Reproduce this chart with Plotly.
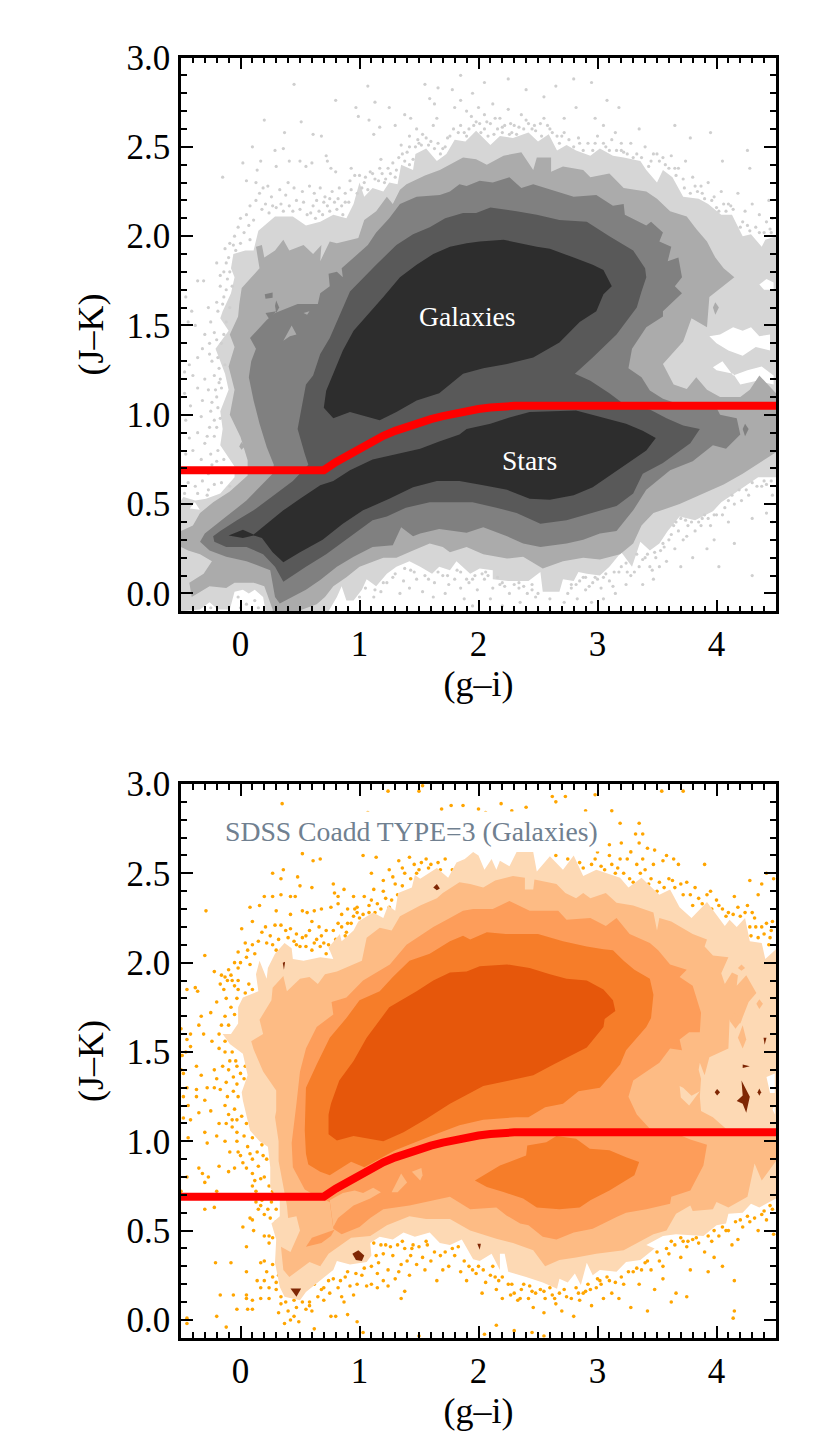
import plotly.graph_objects as go

X_TICKS = [0, 1, 2, 3, 4]
Y_TICKS = [0.0, 0.5, 1.0, 1.5, 2.0, 2.5, 3.0]
GREYS = ["#d6d6d6", "#ababab", "#808080", "#595959", "#2d2d2d"]
ORANGES = ["#fdd9b4", "#fdbb84", "#fd9d5a", "#f67d29", "#e6570b"]
SPECK = "#7f2704"

cut_x = [-0.5, 0.7, 0.8, 0.9, 1.0, 1.1, 1.2, 1.3, 1.4, 1.5, 1.6, 1.7, 1.8, 1.9, 2.0, 2.1, 2.2, 2.3, 4.5]
cut_y = [0.69, 0.69, 0.735, 0.775, 0.815, 0.85, 0.882, 0.91, 0.935, 0.957, 0.976, 0.993, 1.008, 1.02, 1.032, 1.041, 1.047, 1.05, 1.05]

top_band1 = [(-0.5,-0.1),(-0.34,-0.09),(-0.26,-0.05),(-0.19,-0.09),(-0.09,-0.09),(-0.05,0.01),(0.02,0.02),(0.07,0.0),(0.12,0.02),(0.19,-0.02),(0.21,-0.1),
(0.74,-0.1),(0.81,-0.02),(0.85,0.04),(0.89,-0.04),(0.95,-0.04),(1.02,0.02),(1.06,0.08),(1.14,0.04),(1.23,0.11),(1.31,0.15),(1.42,0.18),(1.51,0.15),(1.61,0.11),(1.67,0.15),(1.76,0.13),(1.815,0.18),(1.93,0.11),(2.01,0.14),(2.12,0.13),(2.12,0.08),(2.25,0.07),(2.42,0.07),(2.52,0.12),(2.54,0.01),(2.68,0.01),(2.71,0.08),(2.80,0.07),(2.84,0.12),(2.91,0.11),(3.02,0.10),(3.10,0.15),(3.20,0.23),(3.29,0.15),(3.36,0.29),(3.44,0.24),(3.52,0.28),(3.59,0.35),(3.69,0.43),(3.82,0.41),(3.97,0.46),(4.04,0.51),(4.15,0.56),(4.24,0.60),(4.35,0.65),(4.5,0.65),
(4.5,2.0),(4.41,1.98),(4.38,1.94),(4.29,2.01),(4.22,2.0),(4.13,2.12),(4.04,2.12),(3.93,2.18),(3.85,2.21),(3.72,2.22),(3.63,2.33),(3.55,2.37),(3.50,2.30),(3.41,2.37),(3.36,2.42),(3.22,2.44),(3.13,2.45),(3.02,2.49),(2.94,2.45),(2.82,2.48),(2.74,2.51),(2.66,2.48),(2.59,2.57),(2.50,2.53),(2.42,2.58),(2.29,2.55),(2.18,2.56),(2.10,2.51),(1.98,2.59),(1.89,2.53),(1.80,2.54),(1.73,2.46),(1.65,2.42),(1.56,2.49),(1.47,2.46),(1.45,2.37),(1.35,2.40),(1.32,2.29),(1.25,2.30),(1.20,2.25),(1.11,2.27),(1.04,2.22),(1.0,2.30),(0.95,2.18),(0.89,2.10),(0.78,2.12),(0.67,2.08),(0.55,2.06),(0.44,2.11),(0.29,2.11),(0.22,2.07),(0.15,2.03),(0.11,1.92),(0.04,1.92),(-0.06,1.90),(-0.08,1.82),(-0.05,1.77),(-0.08,1.68),(-0.15,1.58),(-0.17,1.54),(-0.10,1.47),(-0.21,1.37),(-0.13,1.23),(-0.10,1.14),(-0.17,1.02),(-0.15,0.92),(-0.17,0.83),(-0.05,0.71),(-0.05,0.65),(-0.17,0.56),(-0.29,0.53),(-0.38,0.52),(-0.48,0.54),(-0.5,0.52)]

top_holes = [
[(3.94,1.44),(4.03,1.45),(4.14,1.49),(4.22,1.47),(4.29,1.49),(4.36,1.44),(4.45,1.45),(4.45,1.36),(4.33,1.38),(4.22,1.33),(4.10,1.36),(4.0,1.40)],
[(3.97,1.266),(4.05,1.30),(4.14,1.22),(4.26,1.25),(4.38,1.27),(4.48,1.22),(4.48,1.17),(4.34,1.19),(4.20,1.17),(4.14,1.23),(4.0,1.25)],
[(4.36,1.73),(4.42,1.76),(4.48,1.74),(4.48,1.70),(4.40,1.70)],
[(-0.426,0.475),(-0.384,0.512),(-0.342,0.469)],
]

top_band2 = [(-0.5,0.26),(-0.44,0.24),(-0.34,0.22),(-0.24,0.18),(-0.31,0.11),(-0.43,0.06),(-0.41,-0.02),(-0.26,0.04),(-0.12,0.03),(-0.05,0.06),(0.11,0.06),(0.20,0.04),(0.27,-0.09),(0.27,-0.1),(0.48,-0.1),(0.64,-0.06),(0.71,-0.02),(0.78,0.04),(0.89,0.09),(1.0,0.15),(1.20,0.20),(1.31,0.20),(1.45,0.24),(1.59,0.28),(1.70,0.26),(1.76,0.23),(1.90,0.26),(2.04,0.22),(2.24,0.195),(2.375,0.205),(2.54,0.14),(2.71,0.18),(2.88,0.20),(3.02,0.19),(3.19,0.22),(3.30,0.28),(3.37,0.38),(3.47,0.45),(3.69,0.50),(3.89,0.56),(4.06,0.61),(4.22,0.67),(4.36,0.73),(4.5,0.79),
(4.5,1.12),(4.36,1.22),(4.28,1.14),(4.2,1.10),(4.03,1.10),(3.92,1.14),(3.83,1.21),(3.75,1.145),(3.64,1.17),(3.58,1.25),(3.55,1.285),(3.72,1.41),(3.79,1.54),(3.92,1.49),(3.94,1.66),(4.15,1.77),(4.06,1.82),(3.99,1.88),(3.92,1.97),(3.83,2.04),(3.75,2.11),(3.61,2.14),(3.50,2.21),(3.41,2.25),(3.22,2.27),(3.10,2.35),(2.94,2.33),(2.88,2.37),(2.71,2.39),(2.61,2.36),(2.61,2.44),(2.49,2.44),(2.46,2.37),(2.36,2.47),(2.21,2.45),(2.07,2.40),(1.98,2.43),(1.87,2.44),(1.79,2.41),(1.675,2.37),(1.55,2.34),(1.395,2.29),(1.34,2.26),(1.28,2.18),(1.23,2.22),(1.14,2.14),(1.04,2.09),(0.99,1.99),(0.81,1.96),(0.75,1.97),(0.67,1.86),(0.68,1.95),(0.61,1.90),(0.53,1.95),(0.41,1.92),(0.36,1.98),(0.29,1.92),(0.20,1.88),(0.18,1.95),(0.13,1.94),(0.16,1.82),(0.01,1.71),(-0.01,1.62),(-0.02,1.55),(-0.09,1.45),(-0.05,1.38),(-0.10,1.27),(-0.05,1.14),(-0.09,1.0),(0.0,0.875),(0.06,0.745),(0.06,0.66),(-0.09,0.57),(-0.23,0.51),(-0.34,0.45),(-0.40,0.38),(-0.5,0.35)]

top_band2_specks = [
[(0.008,0.847),(0.036,0.823),(0.008,0.804),(-0.011,0.823)],
[(3.97,1.60),(3.99,1.63),(4.02,1.60),(3.99,1.56)],
]

top_band3 = [(-0.34,0.29),(-0.30,0.335),(-0.12,0.43),(0.05,0.52),(0.27,0.67),(0.28,0.72),(0.22,0.82),(0.16,0.95),(0.11,1.08),(0.07,1.21),(0.09,1.30),(0.13,1.37),(0.08,1.43),(0.15,1.48),(0.22,1.53),(0.29,1.57),(0.48,1.62),(0.65,1.62),(0.67,1.68),(0.75,1.72),(0.74,1.79),(0.81,1.80),(0.86,1.77),(0.85,1.82),(0.95,1.88),(1.07,1.95),(1.14,2.02),(1.25,2.10),(1.34,2.18),(1.48,2.22),(1.675,2.23),(1.76,2.25),(1.84,2.29),(1.90,2.28),(2.01,2.31),(2.12,2.30),(2.26,2.33),(2.36,2.27),(2.46,2.29),(2.60,2.26),(2.80,2.22),(2.99,2.23),(3.13,2.17),(3.22,2.18),(3.23,2.12),(3.41,2.06),(3.45,2.08),(3.55,2.02),(3.52,1.97),(3.62,1.94),(3.59,1.86),(3.68,1.88),(3.71,1.77),(3.65,1.72),(3.71,1.68),(3.55,1.58),(3.55,1.55),(3.41,1.49),(3.29,1.37),(3.26,1.26),(3.37,1.21),(3.44,1.136),(3.55,1.09),(3.72,1.05),(3.85,1.07),(4.0,1.04),(4.03,1.0),(4.17,0.98),(4.20,0.89),(4.08,0.81),(3.97,0.83),(3.80,0.74),(3.61,0.69),(3.41,0.58),(3.30,0.465),(3.16,0.35),(3.02,0.335),(2.88,0.30),(2.74,0.28),(2.52,0.26),(2.375,0.28),(2.24,0.32),(2.04,0.37),(1.90,0.34),(1.76,0.35),(1.67,0.36),(1.51,0.335),(1.45,0.32),(1.35,0.37),(1.28,0.27),(1.11,0.26),(0.95,0.205),(0.81,0.15),(0.67,0.075),(0.55,0.02),(0.33,-0.056),(0.29,-0.02),(0.25,0.13),(0.05,0.18),(-0.12,0.205),(-0.26,0.24)]

top_band3_specks = [
[(0.204,1.675),(0.27,1.685),(0.27,1.655),(0.21,1.65)],
[(0.30,1.64),(0.325,1.6),(0.30,1.57),(0.29,1.61)],
[(0.21,1.57),(0.30,1.58),(0.246,1.53)],
[(4.22,0.92),(4.24,0.95),(4.27,0.92),(4.24,0.88)],
]
top_band2_over3 = [
[(0.36,1.415),(0.43,1.50),(0.47,1.45),(0.415,1.44)],
[(0.53,1.57),(0.58,1.58),(0.56,1.56)],
]

top_band4 = [(-0.23,0.32),(-0.17,0.35),(-0.03,0.41),(0.11,0.465),(0.30,0.56),(0.44,0.63),(0.57,0.72),(0.54,0.78),(0.48,0.92),(0.51,1.02),(0.55,1.17),(0.61,1.22),(0.67,1.34),(0.75,1.43),(0.86,1.60),(0.92,1.69),(1.14,1.84),(1.31,1.95),(1.45,2.01),(1.59,2.05),(1.72,2.10),(1.87,2.13),(1.98,2.13),(2.10,2.16),(2.32,2.14),(2.49,2.12),(2.68,2.09),(2.91,2.08),(3.10,2.0),(3.30,1.92),(3.40,1.82),(3.41,1.77),(3.37,1.69),(3.33,1.60),(3.16,1.45),(2.96,1.32),(2.81,1.23),(2.94,1.19),(3.10,1.12),(3.22,1.06),(3.44,1.03),(3.58,0.98),(3.72,0.94),(3.86,0.92),(3.78,0.84),(3.66,0.78),(3.55,0.73),(3.38,0.67),(3.30,0.56),(3.16,0.49),(2.96,0.45),(2.74,0.41),(2.52,0.39),(2.32,0.45),(2.15,0.48),(1.95,0.51),(1.76,0.51),(1.59,0.51),(1.39,0.48),(1.23,0.43),(1.11,0.41),(0.92,0.315),(0.72,0.22),(0.55,0.15),(0.36,0.065),(0.29,0.15),(0.19,0.22),(0.05,0.26),(-0.12,0.26),(-0.22,0.29)]

top_band5_gal = [(0.70,1.04),(0.78,0.98),(0.92,1.015),(1.17,0.97),(1.31,1.015),(1.48,1.08),(1.67,1.12),(1.87,1.23),(2.04,1.26),(2.24,1.285),(2.46,1.32),(2.68,1.405),(2.85,1.52),(2.99,1.58),(3.05,1.675),(3.12,1.72),(3.05,1.81),(2.96,1.84),(2.80,1.88),(2.60,1.93),(2.49,1.94),(2.35,1.96),(2.21,1.98),(2.01,1.97),(1.90,1.96),(1.76,1.94),(1.62,1.90),(1.48,1.84),(1.34,1.77),(1.20,1.66),(1.06,1.55),(0.95,1.47),(0.86,1.36),(0.75,1.19),(0.72,1.135)]

top_band5_star = [(-0.10,0.325),(0.02,0.357),(0.11,0.33),(0.36,0.465),(0.50,0.53),(0.67,0.605),(0.78,0.63),(0.92,0.69),(1.11,0.75),(1.31,0.78),(1.51,0.81),(1.67,0.85),(1.84,0.89),(1.90,0.92),(2.10,0.95),(2.26,0.985),(2.43,1.015),(2.82,1.024),(3.02,0.987),(3.24,0.95),(3.38,0.91),(3.49,0.87),(3.41,0.80),(3.27,0.735),(3.13,0.67),(2.96,0.595),(2.80,0.55),(2.60,0.525),(2.43,0.53),(2.24,0.58),(2.04,0.605),(1.84,0.63),(1.65,0.63),(1.45,0.595),(1.25,0.53),(1.03,0.465),(0.86,0.39),(0.69,0.30),(0.50,0.23),(0.36,0.175),(0.27,0.23),(0.18,0.31),(0.11,0.325),(0.02,0.31)]

grey_dots = [(0.45,2.85),(0.80,2.76),(1.07,2.84),(1.13,2.75),(0.20,2.65),(0.51,2.64),(0.37,2.58),(0.61,2.57),(0.68,2.56),(1.25,2.72),(1.38,2.68),(1.43,2.66),(1.30,2.62),(1.17,2.61),(0.97,2.72),(0.99,2.67),(1.08,2.65),(1.12,2.57),(1.55,2.85),(1.59,2.77),(1.63,2.74),(1.65,2.66),(1.62,2.62),(1.48,2.60),(1.42,2.56),(1.53,2.57),(1.78,2.82),(1.66,2.83),
(-0.15,2.33),(0.10,2.50),(0.29,2.48),(0.36,2.49),(0.02,2.41),(0.17,2.42),(0.14,2.37),(0.30,2.39),(0.41,2.42),(0.50,2.42),(0.55,2.39),(0.60,2.41),(0.72,2.45),(0.73,2.42),(0.76,2.38),(0.80,2.36),(0.93,2.38),(0.96,2.34),(1.05,2.33),(1.09,2.36),(1.13,2.32),(1.19,2.35),(1.24,2.38),(1.28,2.41),(1.33,2.44),(1.18,2.43),(1.35,2.51),(1.42,2.50),(1.50,2.52),(1.60,2.53),(1.66,2.52),(1.74,2.55),
(0.05,2.31),(0.13,2.30),(0.19,2.27),(0.23,2.28),(0.26,2.22),(0.33,2.26),(0.40,2.30),(0.45,2.27),(0.52,2.25),(0.58,2.28),(0.62,2.24),(0.67,2.27),(0.71,2.22),(0.77,2.25),(0.82,2.21),(0.88,2.24),(0.91,2.19),(0.85,2.17),(0.79,2.19),(0.73,2.17),(0.66,2.14),(0.61,2.17),(0.56,2.12),(0.50,2.15),(0.47,2.20),(0.41,2.17),(0.36,2.14),(0.30,2.16),(0.24,2.13),(0.18,2.15),(0.13,2.20),(0.08,2.17),(0.05,2.12),(0.0,2.10),(-0.02,2.05),(0.03,2.02),(0.07,2.06),(0.11,2.09),(-0.05,2.00),(0.0,1.96),(0.08,1.98),(-0.09,1.96),(-0.13,1.93),(-0.10,1.88),(-0.20,1.85),(-0.14,1.80),(-0.11,1.76),(-0.17,1.72),(-0.12,1.70),(-0.14,1.66),(-0.20,1.63),(-0.27,1.60),(-0.31,1.75),(-0.36,1.75),(-0.41,1.58),(-0.44,1.52),(-0.46,1.66),(-0.38,1.50),(-0.30,1.45),(-0.26,1.40),(-0.32,1.37),(-0.24,1.30),(-0.36,1.32),(-0.43,1.28),(-0.47,1.24),(-0.40,1.22),(-0.30,1.20),(-0.22,1.22),(-0.18,1.18),(-0.27,1.14),(-0.36,1.15),(-0.47,1.12),(-0.20,1.10),(-0.32,1.08),(-0.42,1.05),(-0.25,1.02),(-0.33,0.99),(-0.46,0.97),(-0.26,0.93),(-0.36,0.90),(-0.43,0.87),(-0.22,0.88),(-0.30,0.84),(-0.40,0.80),(-0.46,0.78),(-0.25,0.78),(-0.33,0.75),(-0.20,0.74),(-0.14,0.75),(-0.44,0.62),(-0.38,0.60),(-0.32,0.63),(-0.27,0.58),(-0.22,0.61),(-0.47,0.56),(-0.36,0.56),(-0.16,0.62),
(-0.02,-0.02),(0.05,-0.06),(0.12,-0.04),(0.0,-0.08),(0.15,-0.08),(-0.25,-0.08),(1.0,-0.02),(1.05,0.03),(1.12,-0.02),(1.18,0.01),(1.23,0.06),(1.3,0.11),(1.37,0.07),(1.43,0.13),(1.48,0.08),(1.55,0.1),(1.63,0.06),(1.7,0.1),(1.75,0.05),(1.34,0.0),(1.42,0.03),(1.53,0.01),(1.62,-0.02),(1.72,0.0),(1.8,0.08),(1.85,0.03),(1.92,0.06),(1.99,0.02),(2.05,0.08),(2.12,0.03),(2.18,0.05),(2.26,0.0),(2.34,0.03),(2.41,0.0),(1.88,-0.03),(1.95,-0.07),(2.1,-0.03),(2.2,-0.07),(2.35,-0.05),(2.48,-0.02),(2.6,-0.03),(2.72,-0.05),(2.78,0.03),(2.85,0.07),(2.9,0.02),(2.96,0.06),(3.03,0.03),(3.1,0.07),(3.18,0.12),(3.24,0.05),(2.83,-0.03),(2.95,-0.05),(3.05,-0.03),(3.15,0.0),(3.28,0.1),(3.35,0.15),(3.4,0.2),(3.44,0.15),(3.49,0.2),(3.53,0.24),(3.38,0.05),(3.47,0.08),(3.58,0.18),(3.6,0.3),(3.65,0.25),(3.68,0.35),(3.72,0.3),(3.76,0.38),(3.82,0.35),(3.87,0.38),(3.93,0.42),(3.7,0.15),(3.8,0.2),(3.92,0.25),(3.98,0.3),(4.05,0.44),(4.1,0.4),(4.15,0.5),(4.21,0.52),(4.27,0.55),(4.34,0.6),(4.42,0.61),(4.3,0.42),(4.15,0.28),(4.02,0.15),(4.3,0.1),(4.42,0.45),(4.47,0.55),
(1.80,2.72),(1.85,2.76),(1.90,2.70),(1.95,2.80),(2.0,2.72),(2.05,2.68),(2.12,2.74),(2.18,2.66),(2.25,2.71),(2.30,2.62),(2.36,2.68),(2.42,2.63),(2.48,2.59),(2.55,2.66),(2.62,2.58),(2.70,2.56),(1.85,2.62),(1.92,2.60),(1.98,2.64),(2.05,2.60),(2.10,2.63),(2.16,2.60),(2.22,2.62),(2.28,2.58),(1.85,2.9),(2.05,2.86),(2.25,2.88),(2.4,2.82),(2.55,2.78),(2.65,2.84),(2.8,2.88),(2.95,2.86),(3.08,2.76),(2.82,2.72),(2.98,2.66),(2.72,2.66),(3.05,2.62),(3.15,2.58),(3.18,2.72),(3.35,2.6),(2.84,2.55),(2.92,2.52),(3.0,2.56),(3.07,2.5),(3.12,2.54),(3.22,2.47),(3.28,2.52),(3.33,2.46),(3.4,2.5),(3.45,2.42),(3.5,2.46),(3.57,2.4),(3.62,2.45),(3.68,2.38),(3.74,2.42),(3.8,2.33),(3.87,2.28),(3.93,2.3),(3.98,2.22),(4.04,2.25),(4.1,2.18),(4.18,2.24),(4.24,2.14),(4.3,2.18),(4.36,2.12),(4.42,2.08),(4.44,2.2),(4.28,2.38),(4.26,2.48),(4.05,2.42),(3.95,2.58),(3.78,2.55),(3.65,2.62),(3.2,2.52),(4.47,2.1),
(0.64,2.20),(0.69,2.12),(0.75,2.14),(0.81,2.15),(0.86,2.12),(0.93,2.26),(1.0,2.34),(1.02,2.27),(1.07,2.26),(1.16,2.31),(1.22,2.32),(1.30,2.33),(1.38,2.42),(1.42,2.40),(1.47,2.50),(1.52,2.51),(1.58,2.51),(1.70,2.49),(1.76,2.56),(1.83,2.58),(1.90,2.56),(1.96,2.62),(2.02,2.58),(2.08,2.56),(2.13,2.57),(2.20,2.58),(2.26,2.57),(2.32,2.57),(2.38,2.60),(2.45,2.60),(2.53,2.56),(2.60,2.60),(2.68,2.52),(2.76,2.54),(2.80,2.50),(2.88,2.48),(2.96,2.48),(3.05,2.52),(3.16,2.48),(3.25,2.46),(3.37,2.44),(3.43,2.39),(3.52,2.42),(3.6,2.38),(3.66,2.34),(3.73,2.27),(3.78,2.24),(3.84,2.25),(3.9,2.21),(3.96,2.2),(4.02,2.14),(4.08,2.14),(4.14,2.15),(4.2,2.05),(4.26,2.06),(4.33,2.05),(4.4,2.02),(4.45,2.04),
(-0.06,1.95),(-0.04,1.92),(-0.12,1.85),(-0.09,1.8),(-0.17,1.78),(-0.15,1.62),(-0.19,1.58),(-0.25,1.52),(-0.22,1.46),(-0.2,1.42),(-0.26,1.34),(-0.18,1.26),(-0.16,1.15),(-0.24,1.07),(-0.22,0.97),(-0.2,0.93),(-0.28,0.88),(-0.24,0.72),(-0.27,0.67),(-0.37,0.68),(-0.42,0.7),(-0.1,0.55),
(1.85,0.12),(1.9,0.08),(1.97,0.1),(2.03,0.11),(2.08,0.1),(2.16,0.09),(2.22,0.04),(2.3,0.05),(2.38,0.04),(2.45,0.05),(2.5,0.0),(2.75,0.0),(2.82,0.05),(2.88,0.09),(2.93,0.04),(3.0,0.08),(3.07,0.11),(3.13,0.04),(3.2,0.15),(3.25,0.12),(3.31,0.12),(3.33,0.22),(3.42,0.22),(3.46,0.13),(3.52,0.15),(3.56,0.26),(3.62,0.33),(3.66,0.4),(3.7,0.42),(3.75,0.32),(3.79,0.4),(3.85,0.4),(3.9,0.44),(3.95,0.38),(4.0,0.44),(4.07,0.48),(4.13,0.55),(4.19,0.58),(4.3,0.62),(4.38,0.6),(4.46,0.63),(4.47,0.4),
(0.16,2.24),(0.21,2.18),(0.27,2.17),(0.34,2.18),(0.38,2.23),(0.44,2.14),(0.53,2.19),(0.59,2.13),(0.63,2.10),(0.70,2.19),(0.75,2.21),(0.83,2.27),(0.88,2.19),(0.92,2.31),(0.98,2.24),(1.04,2.30),(1.11,2.35),(1.17,2.38),(1.21,2.30),(1.26,2.35),(1.31,2.37),(1.36,2.46),(1.40,2.47),(1.45,2.43),(1.49,2.54),(1.56,2.55),(1.63,2.49),(1.68,2.46),(1.72,2.50),(1.79,2.60),(1.88,2.58),(1.94,2.67),(2.01,2.63),(2.07,2.64),(2.14,2.66),(2.20,2.61),(2.27,2.63),(2.34,2.61),(2.40,2.65),(2.47,2.62),(2.52,2.63),(2.58,2.62),(2.66,2.56),(2.72,2.58),(2.85,2.52),(2.98,2.52),(3.1,2.48),(3.2,2.48),(3.3,2.44),(3.47,2.46),(3.55,2.44),(3.65,2.38),(3.72,2.32),(3.82,2.28),(3.88,2.24),(4.0,2.16),(4.06,2.18),(4.12,2.17),(4.22,2.08),(4.28,2.03),(4.36,2.02),(4.46,2.02),
(-0.07,1.72),(-0.09,1.60),(-0.12,1.52),(-0.14,1.45),(-0.16,1.40),(-0.19,1.32),(-0.17,1.20),(-0.13,1.28),(-0.21,1.14),(-0.19,1.04),(-0.17,0.98),(-0.19,0.80),(-0.12,0.70),(-0.09,0.60),(-0.16,0.68),(-0.28,0.55),
(1.13,0.02),(1.2,0.06),(1.28,0.09),(1.38,0.14),(1.46,0.12),(1.58,0.08),(1.66,0.12),(1.74,0.1),(1.82,0.13),(1.95,0.08),(2.06,0.12),(2.2,0.06),(2.34,0.06),(2.45,0.02),(2.78,0.05),(2.9,0.09),(2.98,0.09),(3.05,0.09),(3.14,0.12),(3.24,0.17),(3.38,0.19),(3.48,0.23),(3.55,0.28),(3.64,0.38),(3.74,0.41),(3.88,0.42),(3.98,0.44),(4.1,0.52),(4.25,0.58),(4.4,0.63)]

bot_band1 = [(0.02,1.228),(0.08,1.06),(0.16,1.0),(0.23,0.97),(0.25,0.855),(0.25,0.74),(0.33,0.67),(0.33,0.58),(0.26,0.54),(0.30,0.45),(0.29,0.32),(0.33,0.185),(0.37,0.13),(0.50,0.11),(0.55,0.157),(0.67,0.22),(0.78,0.28),(0.81,0.33),(0.92,0.31),(1.06,0.325),(1.10,0.36),(1.09,0.43),(1.17,0.465),(1.28,0.45),(1.37,0.49),(1.465,0.465),(1.59,0.49),(1.675,0.43),(1.76,0.42),(1.86,0.45),(1.955,0.34),(2.01,0.33),(2.11,0.37),(2.18,0.28),(2.18,0.37),(2.22,0.37),(2.25,0.27),(2.40,0.24),(2.54,0.21),(2.66,0.175),(2.68,0.23),(2.75,0.21),(2.81,0.26),(2.86,0.195),(2.91,0.32),(2.96,0.25),(3.02,0.28),(3.16,0.27),(3.24,0.325),(3.36,0.335),(3.48,0.40),(3.41,0.42),(3.55,0.47),(3.66,0.48),(3.89,0.47),(4.0,0.53),(4.08,0.54),(4.10,0.595),(4.22,0.60),(4.29,0.65),(4.36,0.63),(4.5,0.68),
(4.5,2.075),(4.41,2.02),(4.38,2.11),(4.28,2.12),(4.24,2.25),(4.17,2.20),(4.11,2.24),(4.07,2.205),(4.0,2.27),(3.92,2.34),(3.79,2.25),(3.69,2.31),(3.61,2.41),(3.52,2.38),(3.37,2.475),(3.26,2.42),(3.19,2.475),(2.99,2.52),(2.88,2.485),(2.80,2.60),(2.71,2.52),(2.60,2.595),(2.49,2.51),(2.46,2.62),(2.32,2.62),(2.26,2.54),(2.18,2.57),(2.15,2.52),(2.11,2.58),(2.05,2.52),(2.0,2.60),(1.955,2.62),(1.885,2.58),(1.815,2.56),(1.745,2.475),(1.65,2.53),(1.51,2.47),(1.465,2.49),(1.44,2.42),(1.325,2.39),(1.30,2.29),(1.24,2.32),(1.20,2.25),(1.115,2.28),(0.99,2.23),(0.95,2.18),(0.85,2.12),(0.835,2.16),(0.74,2.085),(0.78,2.02),(0.67,2.03),(0.53,2.01),(0.44,2.02),(0.43,2.08),(0.37,2.11),(0.29,2.05),(0.23,1.97),(0.22,1.91),(0.16,2.01),(0.13,1.935),(0.15,1.84),(0.02,1.805),(-0.02,1.75),(-0.02,1.66),(-0.08,1.60),(-0.15,1.60),(-0.09,1.545),(0.02,1.49),(0.06,1.37),(0.01,1.275)]

bot_holes = [
[(4.42,1.36),(4.49,1.38),(4.49,1.27),(4.45,1.27)],
[(4.47,1.18),(4.49,1.2),(4.49,1.15)],
]

bot_band2 = [(0.29,1.135),(0.32,1.0),(0.32,0.89),(0.39,0.64),(0.40,0.57),(0.47,0.58),(0.50,0.50),(0.42,0.38),(0.34,0.41),(0.36,0.28),(0.41,0.24),(0.58,0.325),(0.67,0.30),(0.74,0.37),(0.93,0.46),(1.09,0.47),(1.23,0.53),(1.42,0.58),(1.56,0.565),(1.76,0.565),(1.93,0.50),(2.12,0.46),(2.15,0.455),(2.29,0.43),(2.46,0.39),(2.56,0.30),(2.68,0.335),(2.82,0.35),(2.99,0.37),(3.22,0.39),(3.38,0.45),(3.47,0.48),(3.58,0.50),(3.66,0.595),(3.78,0.64),(3.80,0.61),(3.97,0.62),(4.0,0.66),(4.10,0.63),(4.26,0.69),(4.32,0.875),(4.38,0.78),(4.5,0.89),(4.5,1.07),
(4.08,1.07),(3.97,1.135),(3.87,1.17),(3.86,1.25),(3.87,1.35),(3.85,1.40),(3.86,1.44),(3.90,1.37),(3.94,1.47),(4.10,1.52),(4.11,1.68),(4.20,1.66),(4.27,1.78),(4.335,1.83),(4.25,1.93),(4.17,1.87),(4.18,1.93),(4.13,1.945),(4.07,1.88),(4.04,1.94),(4.10,2.03),(3.97,2.04),(3.90,2.09),(3.92,2.13),(3.80,2.16),(3.62,2.23),(3.52,2.25),(3.50,2.18),(3.47,2.28),(3.30,2.32),(3.16,2.335),(3.07,2.39),(2.94,2.36),(2.88,2.39),(2.82,2.36),(2.73,2.39),(2.655,2.44),(2.47,2.465),(2.46,2.41),(2.39,2.41),(2.39,2.475),(2.29,2.485),(2.14,2.46),(2.04,2.42),(1.93,2.44),(1.84,2.45),(1.70,2.39),(1.65,2.36),(1.51,2.32),(1.34,2.26),(1.27,2.18),(1.17,2.195),(1.06,2.14),(1.02,2.01),(0.81,1.95),(0.71,1.935),(0.65,1.88),(0.58,1.92),(0.50,1.91),(0.39,1.84),(0.36,1.925),(0.27,1.86),(0.26,1.79),(0.16,1.68),(0.19,1.60),(0.09,1.56),(0.11,1.515),(0.19,1.39),(0.30,1.285),(0.30,1.17)]

bot_band2_patches = [
[(4.22,1.65),(4.25,1.57),(4.22,1.52),(4.18,1.58)],
[(4.15,1.72),(4.21,1.675),(4.16,1.63),(4.11,1.675)],
[(4.36,1.795),(4.39,1.77),(4.36,1.74),(4.335,1.77)],
[(4.21,1.99),(4.24,1.97),(4.21,1.955),(4.18,1.97)],
]

bot_band1_tongue = [(3.69,1.31),(3.70,1.245),(3.77,1.20),(3.86,1.28),(3.79,1.255),(3.72,1.30)]

bot_band3 = [(0.47,1.21),(0.43,0.99),(0.44,0.855),(0.54,0.73),(0.67,0.68),(0.72,0.67),(0.75,0.66),(0.78,0.51),(0.85,0.48),(1.0,0.52),(1.09,0.57),(1.20,0.62),(1.42,0.64),(1.76,0.69),(1.93,0.62),(2.15,0.63),(2.235,0.585),(2.35,0.54),(2.42,0.53),(2.54,0.465),(2.655,0.45),(2.80,0.49),(2.96,0.51),(3.16,0.576),(3.24,0.60),(3.41,0.62),(3.61,0.65),(3.62,0.69),(3.78,0.725),(3.89,0.865),(3.92,0.98),(3.78,1.01),(3.60,1.06),(3.44,1.07),(3.33,1.15),(3.26,1.25),(3.30,1.34),(3.52,1.44),(3.61,1.52),(3.71,1.51),(3.69,1.57),(3.77,1.61),(3.86,1.61),(3.87,1.72),(3.80,1.87),(3.69,1.92),(3.75,1.96),(3.61,1.99),(3.51,2.07),(3.44,2.11),(3.27,2.16),(3.16,2.25),(3.07,2.205),(2.94,2.25),(2.74,2.24),(2.67,2.29),(2.43,2.29),(2.26,2.345),(2.12,2.30),(1.955,2.30),(1.87,2.29),(1.76,2.25),(1.62,2.20),(1.395,2.10),(1.255,1.99),(1.03,1.90),(0.89,1.805),(0.765,1.78),(0.78,1.71),(0.64,1.64),(0.55,1.52),(0.50,1.39)]

bot_band2_slivers = [
[(0.75,0.67),(0.86,0.71),(0.96,0.725),(1.03,0.71),(1.115,0.74),(1.18,0.715),(1.09,0.68),(0.95,0.64),(0.82,0.57),(0.78,0.52)],
[(1.27,0.715),(1.35,0.82),(1.40,0.77),(1.32,0.715)],
[(1.44,0.83),(1.52,0.85),(1.53,0.81),(1.51,0.78)],
]
bot_band3_patch = [(0.55,0.41),(0.60,0.46),(0.79,0.505),(0.76,0.47),(0.68,0.43)]

bot_band4_gal = [(0.54,1.06),(0.55,0.93),(0.57,0.87),(0.67,0.83),(0.75,0.81),(0.93,0.885),(1.04,0.855),(1.30,0.95),(1.60,1.03),(1.84,1.09),(2.04,1.12),(2.32,1.135),(2.42,1.135),(2.56,1.19),(2.71,1.21),(2.84,1.28),(3.02,1.30),(3.19,1.43),(3.24,1.51),(3.33,1.58),(3.41,1.64),(3.45,1.69),(3.47,1.82),(3.44,1.91),(3.31,1.96),(3.22,2.01),(3.13,2.07),(3.05,2.075),(2.91,2.09),(2.71,2.12),(2.50,2.16),(2.23,2.16),(2.07,2.17),(1.93,2.13),(1.87,2.15),(1.76,2.12),(1.59,2.05),(1.42,2.01),(1.28,1.92),(1.17,1.84),(1.0,1.79),(0.89,1.69),(0.75,1.58),(0.64,1.43),(0.55,1.30)]

bot_band4_star = [(1.97,0.78),(2.18,0.865),(2.40,0.92),(2.41,0.977),(2.57,0.995),(2.655,1.03),(2.82,1.014),(2.935,0.958),(3.10,0.95),(3.24,0.91),(3.35,0.884),(3.31,0.81),(3.10,0.725),(2.94,0.67),(2.85,0.63),(2.68,0.62),(2.49,0.63),(2.375,0.68),(2.21,0.716),(2.07,0.744)]

bot_band5 = [(0.74,1.15),(0.74,1.04),(0.81,1.004),(0.95,1.03),(1.20,1.0),(1.37,1.05),(1.56,1.125),(1.76,1.21),(1.93,1.27),(2.04,1.31),(2.26,1.34),(2.46,1.37),(2.63,1.43),(2.75,1.47),(2.91,1.525),(3.05,1.64),(3.06,1.685),(3.15,1.73),(3.13,1.79),(3.05,1.85),(2.91,1.90),(2.74,1.91),(2.60,1.935),(2.43,1.97),(2.24,1.99),(2.01,1.98),(1.90,1.95),(1.76,1.945),(1.62,1.90),(1.48,1.84),(1.25,1.75),(1.06,1.58),(0.95,1.45),(0.83,1.34),(0.76,1.21)]

bot_specks = [
[(4.21,1.34),(4.27,1.27),(4.28,1.25),(4.25,1.16),(4.22,1.21),(4.17,1.225),(4.22,1.256)],
[(3.985,1.275),(4.005,1.293),(4.03,1.275),(4.005,1.256)],
[(4.345,1.275),(4.36,1.295),(4.375,1.275),(4.36,1.255)],
[(4.395,1.58),(4.42,1.58),(4.405,1.54)],
[(4.22,1.43),(4.28,1.42),(4.22,1.41)],
[(0.94,0.37),(0.99,0.39),(1.04,0.36),(1.02,0.33),(0.97,0.335)],
[(1.99,0.427),(2.02,0.427),(2.01,0.393)],
[(0.42,0.176),(0.51,0.176),(0.47,0.13)],
[(1.62,2.42),(1.65,2.44),(1.675,2.415),(1.65,2.405)],
[(0.355,2.0),(0.375,2.005),(0.365,1.96)],
]

orange_dots = [(0.35,2.89),(1.07,2.84),(1.24,2.96),(1.50,2.96),(1.53,2.99),(1.69,2.86),(1.77,2.88),(1.87,2.88),(2.0,2.86),(2.06,2.84),(2.19,2.89),(2.28,2.85),(2.4,2.87),(2.62,2.93),(2.65,2.9),(2.73,2.93),(2.9,2.85),(2.98,2.94),(3.12,2.85),(3.35,2.78),(3.32,2.72),(3.38,2.72),(3.19,2.78),(3.54,2.96),(3.72,2.96),
(0.27,2.5),(0.52,2.61),(0.61,2.57),(0.67,2.58),(1.03,2.6),(1.14,2.59),(1.33,2.57),(1.42,2.59),(1.52,2.56),(1.6,2.55),(1.72,2.58),(1.48,2.5),(1.38,2.5),(1.28,2.48),(1.2,2.46),(1.3,2.44),(1.2,2.4),(1.12,2.41),(0.36,2.52),(0.34,2.47),(0.48,2.48),(0.5,2.43),(0.6,2.42),(0.78,2.44),(0.79,2.39),(0.82,2.37),(0.87,2.41),(0.82,2.33),(0.95,2.37),(1.04,2.37),(1.08,2.32),(1.15,2.33),(1.27,2.35),(1.25,2.31),(0.2,2.37),(0.16,2.32),(0.27,2.37),(0.34,2.38),(0.42,2.37),(0.46,2.37),(-0.29,2.29),(0.08,2.31),(0.1,2.23),(0.01,2.19),(0.21,2.2),(0.29,2.21),(0.34,2.21),(0.42,2.27),(0.52,2.29),(0.56,2.28),(0.62,2.29),(0.68,2.3),(0.76,2.31),(0.85,2.27),(0.95,2.26),(1.03,2.27),(1.08,2.28),(0.42,2.19),(0.47,2.16),(0.52,2.14),(0.58,2.18),(0.6,2.23),(0.66,2.2),(0.72,2.18),(0.78,2.18),(0.85,2.2),(0.89,2.17),(0.5,2.09),(0.55,2.09),(0.6,2.07),(0.67,2.09),(0.72,2.05),(0.76,2.08),(0.32,2.13),(0.27,2.1),(0.22,2.11),(0.1,2.1),(0.04,2.11),(0.12,2.05),(0.05,2.03),(0.0,2.0),(-0.05,2.0),(0.08,1.99),(-0.3,2.04),(-0.08,1.93),(-0.02,1.97),(-0.13,1.92),(-0.45,1.85),(-0.38,1.86),(-0.36,1.84),(-0.17,1.88),(-0.11,1.9),(-0.05,1.87),(-0.02,1.85),(0.04,1.83),(0.1,1.85),(-0.03,1.8),(-0.12,1.8),(-0.08,1.75),(-0.05,1.71),(-0.2,1.78),(-0.13,1.7),(-0.1,1.65),(-0.16,1.65),(-0.33,1.7),(-0.35,1.65),(-0.31,1.6),(-0.5,1.63),(-0.45,1.57),(-0.42,1.53),(-0.42,1.6),(-0.46,1.5),(-0.49,1.48),(-0.5,1.4),(-0.48,1.38),(-0.37,1.42),(-0.33,1.37),(-0.22,1.4),(-0.2,1.35),(-0.13,1.5),(-0.09,1.45),(-0.1,1.4),(-0.04,1.45),(0.0,1.38),(-0.12,1.33),(-0.06,1.36),(-0.03,1.32),(0.03,1.35),(-0.28,1.3),(-0.22,1.3),(-0.17,1.29),(-0.37,1.29),(-0.45,1.3),(-0.48,1.25),(-0.44,1.2),(-0.37,1.25),(-0.3,1.23),(-0.25,1.17),(-0.35,1.16),(-0.48,1.13),(-0.42,1.12),(-0.13,1.2),(-0.1,1.15),(-0.05,1.18),(-0.03,1.12),(0.01,1.14),(0.05,1.1),(-0.07,1.08),(-0.2,1.03),(-0.44,1.02),(-0.3,1.05),(-0.28,0.99),(-0.13,1.0),(-0.09,0.94),(-0.03,1.0),(-0.02,0.94),(0.06,0.97),(0.08,0.93),(0.18,0.98),(0.19,0.92),(0.22,0.9),(0.05,0.85),(0.1,0.82),(0.15,0.86),(0.17,0.79),(0.12,0.78),(0.2,0.8),(0.02,0.88),(-0.05,0.85),(-0.1,0.83),(-0.18,0.86),(-0.35,0.85),(-0.32,0.82),(-0.3,0.77),(-0.27,0.8),(-0.33,0.7),(-0.3,0.62),(-0.22,0.63),(-0.5,0.72),(-0.45,0.8),(-0.2,0.72),(0.1,0.75),(0.24,0.75),(0.26,0.66),(0.15,0.62),(0.17,0.64),(0.23,0.62),(0.3,0.62),(0.2,0.59),(0.25,0.57),(0.08,0.57),(0.1,0.56),(0.3,0.55),(0.02,0.52),(0.11,0.5),(0.2,0.47),(0.27,0.46),(0.24,0.43),(0.05,0.41),(-0.21,0.32),(-0.08,0.32),(0.05,0.27),(0.17,0.32),(0.2,0.33),(0.27,0.31),(0.14,0.22),(0.2,0.22),(0.27,0.24),(0.32,0.25),(0.3,0.21),(0.05,0.14),(-0.17,0.14),(-0.06,0.14),(0.05,0.12),(0.1,0.11),(0.17,0.12),(0.24,0.12),(0.34,0.13),(0.38,0.1),(0.45,0.11),(0.52,0.1),(0.58,0.1),(0.6,0.05),(-0.03,0.06),(0.06,0.06),(0.1,0.06),(-0.45,0.01),(-0.45,-0.02),(-0.2,0.02),(-0.12,-0.04),(0.32,0.04),(0.37,-0.02),(0.42,0.0),(0.45,0.02),(0.49,-0.01),(0.62,-0.05),(0.76,0.02),(0.8,0.02),(0.9,0.03),(0.98,-0.01),(1.03,-0.07),(1.5,-0.09),
(0.62,0.2),(0.7,0.18),(0.78,0.23),(0.82,0.18),(0.88,0.24),(0.92,0.19),(0.98,0.2),(1.02,0.25),(1.06,0.19),(1.15,0.26),(1.2,0.22),(1.24,0.19),(1.3,0.23),(1.38,0.16),(1.35,0.12),(0.87,0.1),(0.7,0.11),(1.42,0.25),(1.48,0.31),(1.35,0.31),(1.28,0.36),(1.2,0.37),(1.12,0.43),(1.22,0.42),(1.32,0.42),(1.43,0.36),(1.5,0.41),(1.57,0.42),(1.6,0.33),(1.65,0.22),(1.75,0.3),(1.8,0.36),(1.85,0.27),(1.9,0.22),(1.95,0.28),(2.0,0.3),(2.06,0.21),(2.1,0.25),(2.15,0.17),(2.2,0.12),(2.25,0.2),(2.3,0.15),(2.33,0.11),(2.38,0.2),(2.42,0.12),(2.46,0.07),(2.52,0.17),(2.55,0.04),(2.62,0.14),(2.65,0.09),(2.7,0.05),(2.74,0.13),(2.8,0.02),(2.85,0.11),(2.9,0.16),(2.95,0.08),(2.99,0.18),(3.05,0.12),(3.12,0.15),(3.18,0.12),(3.22,0.2),(3.28,0.07),(3.35,0.2),(3.42,0.05),(3.48,0.17),(3.55,0.23),(3.62,0.1),(3.66,0.15),(3.75,0.13),(3.4,0.32),(3.55,0.3),(3.6,0.37),(3.7,0.35),(3.75,0.41),(3.85,0.43),(3.9,0.38),(3.78,0.28),(3.93,0.27),(3.98,0.35),(4.02,0.47),(4.05,0.3),(4.1,0.5),(4.13,0.42),(4.18,0.45),(4.22,0.52),(4.28,0.55),(4.35,0.5),(4.42,0.56),(4.47,0.62),(4.48,0.48),(4.15,0.22),(4.14,0.01),(4.15,0.05),(2.05,-0.08),(2.3,-0.06),(2.45,-0.07),(2.55,-0.09),(2.15,-0.03),
(3.19,2.58),(3.22,2.5),(3.3,2.45),(3.33,2.55),(3.4,2.52),(3.45,2.47),(3.52,2.45),(3.6,2.47),(3.65,2.42),(3.7,2.44),(3.78,2.38),(3.85,2.36),(3.92,2.38),(4.0,2.35),(4.05,2.3),(4.1,2.28),(4.18,2.31),(4.26,2.32),(4.32,2.25),(4.38,2.2),(4.42,2.22),(4.47,2.23),(4.45,2.14),(4.35,2.14),(4.28,2.2),(3.15,2.5),(3.25,2.58),(3.35,2.67),(3.55,2.57),(3.68,2.55),(3.9,2.55),(4.28,2.46),(4.38,2.44),(4.42,2.5),(4.48,2.47),(4.35,2.38),(3.42,2.64),(3.48,2.63),(3.58,2.6),(3.2,2.67),(3.1,2.6),(3.03,2.54),(2.95,2.55),(2.85,2.56),(2.75,2.58),(2.65,2.6),
(1.1,2.5),(1.25,2.52),(1.36,2.53),(1.46,2.55),(1.56,2.58),(1.68,2.52),(1.78,2.52),(0.9,2.3),(0.98,2.31),(1.13,2.28),(1.18,2.3),(0.88,2.15),(0.93,2.22),(0.98,2.28),(0.64,2.13),(0.7,2.11),(0.8,2.13),(0.45,2.12),(0.38,2.18),(0.3,2.29),(0.18,2.17),(0.15,2.12),(0.06,2.07),(-0.02,2.06),(-0.1,1.96),(-0.16,1.93),(-0.22,1.95),(-0.07,1.9),(-0.02,1.9),(0.07,1.88),(-0.14,1.85),(-0.25,1.72),(-0.18,1.6),(-0.24,1.56),(-0.18,1.52),(-0.13,1.56),(-0.07,1.5),(-0.03,1.42),(0.04,1.42),(-0.15,1.42),(-0.11,1.25),(-0.06,1.28),(-0.02,1.25),(-0.18,1.1),(-0.12,1.1),(-0.07,1.12),(-0.03,1.05),(0.03,1.03),(0.1,1.02),(0.14,0.94),(0.1,0.9),(0.0,0.92),(0.13,0.72),(0.19,0.7),(0.27,0.72),(0.18,0.67),(0.13,0.66),(0.24,0.47),(0.22,0.27),(0.17,0.18),(0.24,0.18),(0.3,0.17),(0.34,0.09),(0.4,0.05),(0.47,0.07),(0.55,0.06),(0.65,0.13),(0.75,0.15),(0.85,0.13),(0.95,0.14),(1.1,0.2),(1.15,0.18),(1.1,0.3),(1.16,0.32),(1.24,0.28),(1.33,0.27),(1.4,0.33),(1.38,0.4),(1.45,0.42),(1.53,0.35),(1.55,0.28),(1.68,0.36),(1.7,0.28),(1.83,0.41),(1.88,0.33),(2.03,0.15),(2.14,0.24),(2.2,0.24),(2.27,0.14),(2.35,0.12),(2.43,0.19),(2.48,0.15),(2.56,0.12),(2.6,0.18),(2.68,0.15),(2.78,0.12),(2.82,0.18),(2.88,0.15),(2.92,0.2),(3.0,0.23),(3.03,0.2),(3.08,0.24),(3.15,0.21),(3.2,0.24),(3.3,0.27),(3.37,0.28),(3.45,0.28),(3.52,0.33),(3.58,0.4),(3.65,0.42),(3.72,0.44),(3.8,0.45),(3.93,0.47),(3.96,0.44),(4.05,0.52),(4.2,0.56),(4.32,0.57),(4.4,0.61),
(2.88,2.53),(2.98,2.58),(3.06,2.52),(3.12,2.55),(3.17,2.53),(3.27,2.47),(3.36,2.5),(3.43,2.44),(3.5,2.4),(3.56,2.42),(3.63,2.46),(3.72,2.38),(3.8,2.32),(3.88,2.33),(3.96,2.3),(4.02,2.32),(4.08,2.26),(4.14,2.27),(4.2,2.26),(4.24,2.28),(4.3,2.28),(4.4,2.16),(4.44,2.1),(4.46,2.18),(4.33,2.2),(4.29,2.15),(3.0,2.62),(3.1,2.66),(3.28,2.62),(3.38,2.58),(3.47,2.55),(3.64,2.58),(3.75,2.45),(3.82,2.42),(3.95,2.4),(4.15,2.37),
(0.25,2.15),(0.3,2.07),(0.4,2.14),(0.47,2.1),(0.55,2.15),(0.62,2.11),(0.68,2.15),(0.74,2.1),(0.82,2.22),(0.9,2.22),(0.96,2.3),(1.0,2.25),(1.1,2.35),(1.22,2.36),(1.32,2.38),(1.36,2.43),(1.43,2.47),(1.5,2.52),(1.58,2.53),(1.66,2.56),
(0.58,0.08),(0.68,0.17),(0.74,0.22),(0.84,0.22),(0.9,0.27),(0.97,0.26),(1.04,0.29),(1.14,0.36),(1.18,0.42),(1.26,0.41),(1.36,0.44),(1.44,0.4),(1.56,0.44),(1.63,0.38),(1.72,0.38),(1.78,0.4),(1.92,0.3),(1.98,0.26),(2.04,0.28),(2.12,0.3),(2.17,0.22),(2.28,0.2),(2.36,0.17),(2.45,0.16),(2.55,0.16),(2.64,0.12),(2.72,0.17),(2.84,0.15),(2.94,0.17),(3.02,0.22),(3.1,0.22),(3.26,0.27),(3.33,0.29),(3.42,0.33),(3.5,0.38),(3.62,0.44),(3.7,0.46),(3.76,0.44),(3.83,0.46),(3.98,0.5),(4.08,0.5),(4.16,0.55),(4.26,0.58),(4.38,0.59),(4.45,0.64)]


def split(points):
    return [p[0] for p in points], [p[1] for p in points]


fig = go.Figure()


def band(points, color, axes):
    xs, ys = split(points)
    fig.add_trace(go.Scatter(x=xs, y=ys, mode="lines", fill="toself", fillcolor=color,
                             line=dict(width=0, color=color), hoverinfo="skip",
                             showlegend=False, xaxis=axes[0], yaxis=axes[1]))


def dots(points, color, size, axes):
    xs, ys = split(points)
    fig.add_trace(go.Scatter(x=xs, y=ys, mode="markers", hoverinfo="skip", showlegend=False,
                             marker=dict(color=color, size=size, symbol="circle", line=dict(width=0)),
                             xaxis=axes[0], yaxis=axes[1]))


def cut_line(axes):
    fig.add_trace(go.Scatter(x=cut_x, y=cut_y, mode="lines", hoverinfo="skip", showlegend=False,
                             line=dict(color="#ff0000", width=8), xaxis=axes[0], yaxis=axes[1]))


# top panel
top = ("x", "y")
band(top_band1, GREYS[0], top)
for h in top_holes:
    band(h, "#ffffff", top)
dots(grey_dots, "#cfcfcf", 3.2, top)
for p in top_band2_specks:
    band(p, GREYS[1], top)
band(top_band2, GREYS[1], top)
band(top_band3, GREYS[2], top)
for p in top_band3_specks:
    band(p, GREYS[2], top)
for p in top_band2_over3:
    band(p, GREYS[1], top)
band(top_band4, GREYS[3], top)
band(top_band5_gal, GREYS[4], top)
band(top_band5_star, GREYS[4], top)
cut_line(top)

# bottom panel
bot = ("x2", "y2")
dots(orange_dots, "#ffa500", 3.6, bot)
band(bot_band1, ORANGES[0], bot)
for h in bot_holes:
    band(h, "#ffffff", bot)
band(bot_band2, ORANGES[1], bot)
band(bot_band1_tongue, ORANGES[0], bot)
for p in bot_band2_patches:
    band(p, ORANGES[1], bot)
band(bot_band3, ORANGES[2], bot)
for p in bot_band2_slivers:
    band(p, ORANGES[1], bot)
band(bot_band3_patch, ORANGES[2], bot)
band(bot_band4_gal, ORANGES[3], bot)
band(bot_band4_star, ORANGES[3], bot)
band(bot_band5, ORANGES[4], bot)
for p in bot_specks:
    band(p, SPECK, bot)
cut_line(bot)

W, H = 830, 1453
FONT = "Liberation Serif"
xdom = [181 / W, 776 / W]
ydom_top = [1 - 611.3 / H, 1 - 57.5 / H]
ydom_bot = [1 - 1337.8 / H, 1 - 784 / H]


def xaxis(anchor):
    return dict(domain=xdom, range=[-0.5, 4.5], anchor=anchor, tickmode="array", tickvals=X_TICKS,
                ticktext=[str(v) for v in X_TICKS], ticks="inside", ticklen=12, tickwidth=2,
                tickcolor="black", showline=True, linecolor="black", linewidth=2.5, mirror="allticks",
                automargin=False, showgrid=False, zeroline=False,
                tickfont=dict(family=FONT, size=35, color="black"), ticklabelstandoff=0,
                minor=dict(ticks="inside", ticklen=6, tickwidth=2, tickcolor="black", dtick=0.1, tick0=0,
                           showgrid=False),
                title=dict(text="(g\u2013i)", font=dict(family=FONT, size=36, color="black"), standoff=0))


def yaxis(anchor, dom):
    return dict(domain=dom, range=[-0.1, 3.0], anchor=anchor, tickmode="array", tickvals=Y_TICKS,
                ticktext=[f"{v:.1f}" for v in Y_TICKS], ticks="inside", ticklen=12, tickwidth=2,
                tickcolor="black", showline=True, linecolor="black", linewidth=2.5, mirror="allticks",
                automargin=False, showgrid=False, zeroline=False,
                tickfont=dict(family=FONT, size=35, color="black"), ticklabelstandoff=1,
                minor=dict(ticks="inside", ticklen=6, tickwidth=2, tickcolor="black", dtick=0.1, tick0=0,
                           showgrid=False),
                title=dict(text="(J\u2013K)", font=dict(family=FONT, size=36, color="black"), standoff=12))


fig.update_layout(
    width=W, height=H, margin=dict(l=0, r=0, t=0, b=0), paper_bgcolor="white", plot_bgcolor="white",
    showlegend=False, font=dict(family=FONT),
    xaxis=xaxis("y"), yaxis=yaxis("x", ydom_top),
    xaxis2=xaxis("y2"), yaxis2=yaxis("x2", ydom_bot),
    annotations=[
        dict(x=1.906, y=1.55, xref="x", yref="y", text="Galaxies", showarrow=False,
             font=dict(family=FONT, size=27.6, color="white")),
        dict(x=2.43, y=0.745, xref="x", yref="y", text="Stars", showarrow=False,
             font=dict(family=FONT, size=27.6, color="white")),
        dict(x=1.435, y=2.735, xref="x2", yref="y2", text="SDSS Coadd TYPE=3 (Galaxies)", showarrow=False,
             bgcolor="white", borderpad=4, font=dict(family=FONT, size=27.7, color="#708090")),
    ],
)

fig.write_html("out.html", config={"displayModeBar": False},
               post_script="document.body.style.margin='0';")
